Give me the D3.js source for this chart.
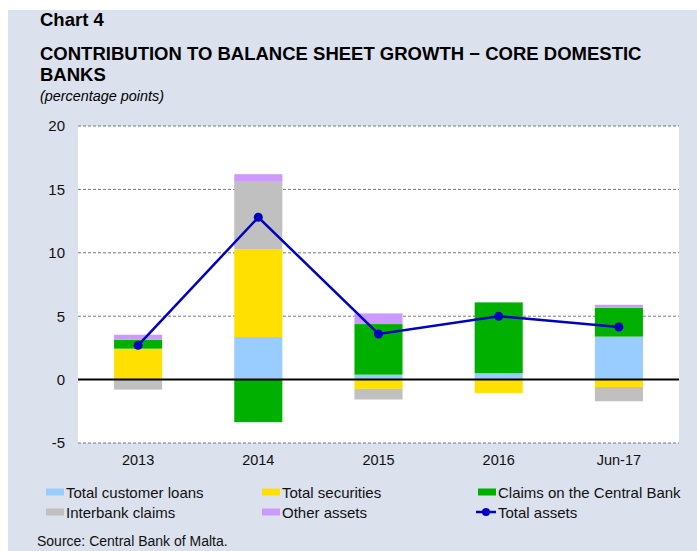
<!DOCTYPE html>
<html><head><meta charset="utf-8">
<script src="https://cdn.jsdelivr.net/npm/d3@7"></script>
<style>body{margin:0;background:#fff}svg{display:block}text{font-family:"Liberation Sans",Arial,sans-serif}</style>
</head><body>
<svg id="c" width="697" height="551"></svg>
<script>
const categories = ["2013","2014","2015","2016","Jun-17"];
const loans      = [0, 3.36, 0.39, 0.5, 3.39];
const securities = [2.44, 6.93, -0.73, -1.05, -0.58];
const centralBank= [0.71, -3.36, 3.99, 5.59, 2.28];
const interbank  = [-0.79, 5.31, -0.84, 0, -1.13];
const other      = [0.39, 0.6, 0.84, 0, 0.23];
const totalAssets= [2.7, 12.8, 3.6, 5.0, 4.15];
const yTicks = [-5, 0, 5, 10, 15, 20];
const seriesNames = ["Total customer loans","Total securities","Claims on the Central Bank","Interbank claims","Other assets"];
const seriesColors = ["#99CCFF","#FFE000","#00B000","#C0C0C0","#CC99FF"];

const svg = d3.select("#c");
svg.append("rect").attr("x",8).attr("y",10).attr("width",689).attr("height",541).attr("fill","#DCE1EE");

const L=78, R=679, T=126, B=443;
svg.append("rect").attr("x",L).attr("y",T).attr("width",R-L).attr("height",B-T).attr("fill","#fff");

const x = d3.scaleBand().domain(categories).range([L,R]).paddingInner(0.6).paddingOuter(0.3);
const y = d3.scaleLinear().domain([-5,20]).range([B,T]);

// title
svg.append("text").attr("x",40).attr("y",26).attr("font-size",18.5).attr("font-weight","bold").text("Chart 4");
svg.append("text").attr("x",40).attr("y",60).attr("font-size",18.5).attr("font-weight","bold").text("CONTRIBUTION TO BALANCE SHEET GROWTH \u2212 CORE DOMESTIC");
svg.append("text").attr("x",40).attr("y",81).attr("font-size",18.5).attr("font-weight","bold").text("BANKS");
svg.append("text").attr("x",40).attr("y",101).attr("font-size",14.4).attr("font-style","italic").text("(percentage points)");

// grid
const yAxis = d3.axisLeft(y).tickValues(yTicks).tickFormat(d=>String(d)).tickSize(0).tickPadding(13);
const gy = svg.append("g").attr("transform",`translate(${L},0)`).call(yAxis);
gy.select(".domain").remove();
gy.selectAll("text").attr("font-size",15).attr("fill","#111").style("font-family","Liberation Sans, Arial, sans-serif");
svg.append("g").selectAll("line").data(yTicks.filter(d=>d!==0)).join("line")
  .attr("x1",L).attr("x2",R).attr("y1",d=>y(d)).attr("y2",d=>y(d))
  .attr("stroke","#777").attr("stroke-width",1).attr("stroke-dasharray","3,2");

// stacked bars
const table = categories.map((c,i)=>({cat:c, s0:loans[i], s1:securities[i], s2:centralBank[i], s3:interbank[i], s4:other[i]}));
const stack = d3.stack().keys(["s0","s1","s2","s3","s4"]).offset(d3.stackOffsetDiverging);
const layers = stack(table);
svg.append("g").selectAll("g").data(layers).join("g").attr("fill",(d,i)=>seriesColors[i])
  .selectAll("rect").data(d=>d).join("rect")
  .attr("x",d=>x(d.data.cat)).attr("width",x.bandwidth())
  .attr("y",d=>y(Math.max(d[0],d[1]))).attr("height",d=>Math.abs(y(d[0])-y(d[1])));

// zero line
svg.append("line").attr("x1",L).attr("x2",R).attr("y1",y(0)).attr("y2",y(0)).attr("stroke","#000").attr("stroke-width",2);

// x labels
const xAxis = d3.axisBottom(x).tickSize(0).tickPadding(12);
const gx = svg.append("g").attr("transform",`translate(0,${B})`).call(xAxis);
gx.select(".domain").remove();
gx.selectAll("text").attr("font-size",14.5).attr("fill","#111").style("font-family","Liberation Sans, Arial, sans-serif");

// total line
const line = d3.line().x((d,i)=>x(categories[i])+x.bandwidth()/2).y(d=>y(d));
svg.append("path").datum(totalAssets).attr("d",line).attr("fill","none").attr("stroke","#0000C0").attr("stroke-width",2.5);
svg.append("g").selectAll("circle").data(totalAssets).join("circle")
  .attr("cx",(d,i)=>x(categories[i])+x.bandwidth()/2).attr("cy",d=>y(d)).attr("r",4.5).attr("fill","#0000C0");

// legend
const legPos = [[46,492],[262,492],[478,492],[46,512],[262,512]];
seriesNames.forEach((n,i)=>{
  const [lx,ly]=legPos[i];
  svg.append("rect").attr("x",lx).attr("y",ly-3.5).attr("width",18).attr("height",7).attr("fill",seriesColors[i]);
  svg.append("text").attr("x",lx+20).attr("y",ly+5.5).attr("font-size",15).attr("fill","#111").text(n);
});
svg.append("line").attr("x1",476).attr("x2",496).attr("y1",512).attr("y2",512).attr("stroke","#0000C0").attr("stroke-width",2.5);
svg.append("circle").attr("cx",486).attr("cy",512).attr("r",4).attr("fill","#0000C0");
svg.append("text").attr("x",498).attr("y",517.5).attr("font-size",15).attr("fill","#111").text("Total assets");

svg.append("text").attr("x",37).attr("y",546).attr("font-size",14).attr("fill","#111").text("Source: Central Bank of Malta.");
</script>
</body></html>
